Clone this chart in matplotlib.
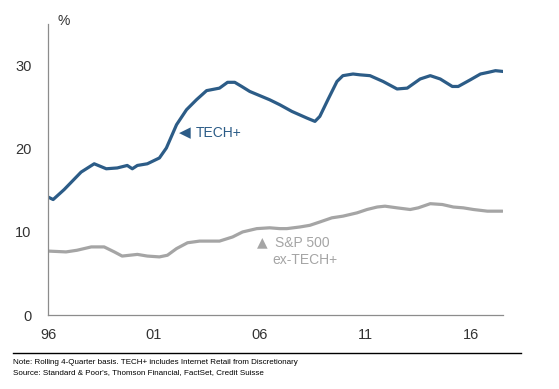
import matplotlib
matplotlib.use("Agg")
import matplotlib.pyplot as plt

plt.rcParams["font.family"] = ["Liberation Sans", "DejaVu Sans"]

# TECH+ rolling 4Q share (%)
tech_x = [1996.0, 1996.24, 1996.76, 1997.56, 1998.18, 1998.75, 1999.27, 1999.74,
          1999.98, 2000.22, 2000.69, 2001.26, 2001.59, 2002.07, 2002.54, 2003.01,
          2003.49, 2004.1, 2004.48, 2004.82, 2005.15, 2005.53, 2006.47, 2006.95,
          2007.52, 2008.23, 2008.61, 2008.84, 2009.22, 2009.65, 2009.93, 2010.41,
          2010.74, 2011.21, 2011.83, 2012.49, 2012.97, 2013.58, 2014.06, 2014.53,
          2015.1, 2015.38, 2015.95, 2016.43, 2016.8, 2017.14, 2017.52]
tech_y = [14.2, 13.9, 15.1, 17.2, 18.2, 17.6, 17.7, 18.0,
          17.6, 18.0, 18.2, 18.9, 20.1, 22.9, 24.7, 25.9,
          27.0, 27.3, 28.0, 28.0, 27.5, 26.9, 25.9, 25.3,
          24.5, 23.7, 23.3, 23.9, 25.9, 28.1, 28.8, 29.0,
          28.9, 28.8, 28.1, 27.2, 27.3, 28.4, 28.8, 28.4,
          27.5, 27.5, 28.3, 29.0, 29.2, 29.4, 29.3]

# S&P 500 ex-TECH+
sp_x = [1996.0, 1996.85, 1997.37, 1998.04, 1998.65, 1999.13, 1999.5, 2000.22,
        2000.69, 2001.26, 2001.64, 2002.07, 2002.59, 2003.16, 2004.1, 2004.72,
        2005.19, 2005.86, 2006.47, 2006.95, 2007.28, 2007.9, 2008.37, 2008.84,
        2009.41, 2009.93, 2010.6, 2011.07, 2011.55, 2011.92, 2012.49, 2013.11,
        2013.49, 2014.06, 2014.63, 2015.15, 2015.62, 2016.1, 2016.76, 2017.47]
sp_y = [7.7, 7.6, 7.8, 8.2, 8.2, 7.6, 7.1, 7.3,
        7.1, 7.0, 7.2, 8.0, 8.7, 8.9, 8.9, 9.4,
        10.0, 10.4, 10.5, 10.4, 10.4, 10.6, 10.8, 11.2,
        11.7, 11.9, 12.3, 12.7, 13.0, 13.1, 12.9, 12.7,
        12.9, 13.4, 13.3, 13.0, 12.9, 12.7, 12.5, 12.5]

xticks = [1996, 2001, 2006, 2011, 2016]
xlabels = ["96", "01", "06", "11", "16"]
yticks = [0, 10, 20, 30]

BLUE = "#2c5c87"
GREY = "#a5a5a5"

fig = plt.figure(figsize=(5.59, 3.89), dpi=100)
ax = fig.add_axes([0.086, 0.19, 0.814, 0.748])

ax.plot(tech_x, tech_y, color=BLUE, lw=2.3, solid_capstyle="round")
ax.plot(sp_x, sp_y, color=GREY, lw=2.3, solid_capstyle="round")

ax.set_xlim(1996, 2017.5)
ax.set_ylim(0, 35)
ax.set_xticks(xticks)
ax.set_xticklabels(xlabels)
ax.set_yticks(yticks)
ax.tick_params(length=0, labelsize=10.5, colors="#333333")
ax.tick_params(axis="y", pad=12)
ax.tick_params(axis="x", pad=9)
for s in ["top", "right"]:
    ax.spines[s].set_visible(False)
for s in ["left", "bottom"]:
    ax.spines[s].set_color("#8c8c8c")
    ax.spines[s].set_linewidth(0.9)

ax.text(0.035, 1.012, "%", transform=ax.transAxes, fontsize=10, color="#333333",
        ha="center", va="center")

# inline labels
ax.text(2002.45, 21.9, "◀", color=BLUE, fontsize=11, family="DejaVu Sans",
        ha="center", va="center")
ax.text(2003.0, 21.9, "TECH+", color=BLUE, fontsize=10, ha="left", va="center")
ax.text(2006.1, 8.7, "▲", color=GREY, fontsize=10, family="DejaVu Sans",
        ha="center", va="center")
ax.text(2006.7, 8.7, "S&P 500", color=GREY, fontsize=10, ha="left", va="center")
ax.text(2006.6, 6.6, "ex-TECH+", color=GREY, fontsize=10, ha="left", va="center")

# footnote
fig.add_artist(plt.Line2D([0.023, 0.932], [0.093, 0.093], color="black", lw=1))
fig.text(0.023, 0.069, "Note: Rolling 4-Quarter basis. TECH+ includes Internet Retail from Discretionary",
         fontsize=5.8, color="black", va="center")
fig.text(0.023, 0.043, "Source: Standard & Poor's, Thomson Financial, FactSet, Credit Suisse",
         fontsize=5.8, color="black", va="center")

fig.savefig("out.png", dpi=100)
